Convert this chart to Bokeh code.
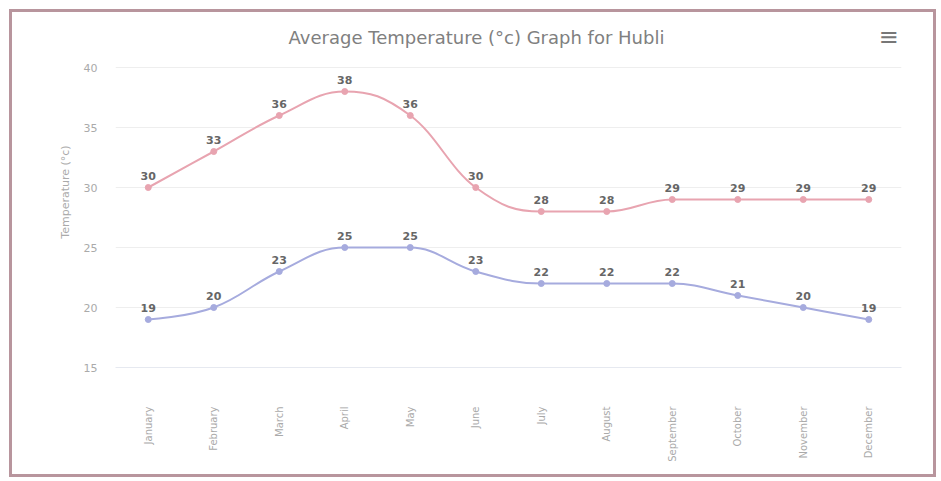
from bokeh.plotting import figure
from bokeh.models import Range1d, FixedTicker, ColumnDataSource
from bokeh.layouts import column
from bokeh.embed import file_html
from bokeh.resources import INLINE
from bokeh.core.properties import value

# ---- data ----
months = ["January", "February", "March", "April", "May", "June", "July",
          "August", "September", "October", "November", "December"]
high_temps = [30, 33, 36, 38, 36, 30, 28, 28, 29, 29, 29, 29]
low_temps = [19, 20, 23, 25, 25, 23, 22, 22, 22, 21, 20, 19]
y_ticks = [15, 20, 25, 30, 35, 40]

title_text = "Average Temperature (\u00b0c) Graph for Hubli"
y_title = "Temperature (\u00b0c)"
menu_icon = "\u2261"

HIGH_COLOR = "#e8a4b0"
LOW_COLOR = "#a6abde"
FONT = "DejaVu Sans"

# ---- layout (pixels, relative to the figure) ----
W, H = 921, 462
ML, MR, MB = 103, 32, 107
AXIS_TOP = 55          # pixel row of the top y tick
MT = 4                 # frame reaches nearly the top so title/menu can live in it
frame_h = H - MT - MB
px_per_deg = (frame_h - (AXIS_TOP - MT)) / (y_ticks[-1] - y_ticks[0])
x0, x1 = -0.5, len(months) - 0.5
y0 = y_ticks[0]
y1 = y_ticks[-1] + (AXIS_TOP - MT) / px_per_deg
frame_w = W - ML - MR


def sx_to_x(px):  # figure-pixel x -> data x
    return x0 + (px - ML) / frame_w * (x1 - x0)


def sy_to_y(py):  # figure-pixel y -> data y
    return y1 - (py - MT) / px_per_deg


def spline_segments(xs, ys, smoothing=1.5):
    """Highcharts-style spline control points -> cubic bezier segments."""
    n = len(xs)
    denom = smoothing + 1
    lc = [None] * n
    rc = [None] * n
    for i in range(n):
        px, py = xs[i], ys[i]
        if i == 0 or i == n - 1:
            lc[i] = (px, py)
            rc[i] = (px, py)
            continue
        lx, ly = xs[i - 1], ys[i - 1]
        nx, ny = xs[i + 1], ys[i + 1]
        lcx = (smoothing * px + lx) / denom
        lcy = (smoothing * py + ly) / denom
        rcx = (smoothing * px + nx) / denom
        rcy = (smoothing * py + ny) / denom
        if rcx != lcx:
            corr = (rcy - lcy) * (rcx - px) / (rcx - lcx) + py - rcy
            lcy += corr
            rcy += corr
        if lcy > ly and lcy > py:
            lcy = max(ly, py)
            rcy = 2 * py - lcy
        elif lcy < ly and lcy < py:
            lcy = min(ly, py)
            rcy = 2 * py - lcy
        if rcy > ny and rcy > py:
            rcy = max(ny, py)
            lcy = 2 * py - rcy
        elif rcy < ny and rcy < py:
            rcy = min(ny, py)
            lcy = 2 * py - rcy
        lc[i] = (lcx, lcy)
        rc[i] = (rcx, rcy)
    seg = dict(x0=[], y0=[], x1=[], y1=[], cx0=[], cy0=[], cx1=[], cy1=[])
    for i in range(n - 1):
        seg["x0"].append(xs[i]); seg["y0"].append(ys[i])
        seg["x1"].append(xs[i + 1]); seg["y1"].append(ys[i + 1])
        seg["cx0"].append(rc[i][0]); seg["cy0"].append(rc[i][1])
        seg["cx1"].append(lc[i + 1][0]); seg["cy1"].append(lc[i + 1][1])
    return seg


p = figure(width=W, height=H, output_backend="svg", toolbar_location=None,
           x_range=Range1d(x0, x1), y_range=Range1d(y0, y1),
           min_border_left=ML, min_border_right=MR,
           min_border_top=MT, min_border_bottom=MB,
           background_fill_color="white", border_fill_color="white")
p.outline_line_color = None

xs = list(range(len(months)))

for vals, col in ((high_temps, HIGH_COLOR), (low_temps, LOW_COLOR)):
    seg = spline_segments(xs, vals)
    p.bezier(source=ColumnDataSource(seg), x0="x0", y0="y0", x1="x1", y1="y1",
             cx0="cx0", cy0="cy0", cx1="cx1", cy1="cy1",
             line_color=col, line_width=2)
    src = ColumnDataSource(dict(x=xs, y=vals, t=[str(v) for v in vals]))
    p.scatter("x", "y", source=src, size=6, color=col, marker="circle")
    p.text("x", "y", text="t", source=src, y_offset=-8,
           text_align="center", text_baseline="bottom",
           text_font=value(FONT), text_font_size="11px",
           text_font_style="bold", text_color="#666666")

# title and menu icon drawn inside the (extended) frame
p.text(x=[sx_to_x(464)], y=[sy_to_y(25)], text=[title_text],
       text_align="center", text_baseline="middle",
       text_font=value(FONT), text_font_size="18px", text_color="#808080")
p.text(x=[sx_to_x(876)], y=[sy_to_y(24)], text=[menu_icon],
       text_align="center", text_baseline="middle",
       text_font=value(FONT), text_font_size="24px", text_color="#777777")

# axes
p.xaxis.ticker = FixedTicker(ticks=xs)
p.xaxis.major_label_overrides = {i: m for i, m in enumerate(months)}
p.xaxis.major_label_orientation = 1.5708
p.xaxis.major_label_standoff = 39
p.xaxis.major_label_text_font = FONT
p.xaxis.major_label_text_font_size = "10px"
p.xaxis.major_label_text_color = "#aaaaaa"
p.xaxis.axis_line_color = "#e6e9f0"
p.xaxis.major_tick_line_color = None
p.xaxis.major_tick_out = 0
p.xaxis.major_tick_in = 0
p.xaxis.minor_tick_line_color = None

p.yaxis.ticker = FixedTicker(ticks=y_ticks)
p.yaxis.axis_label = y_title
p.yaxis.axis_label_text_font = FONT
p.yaxis.axis_label_text_font_size = "11px"
p.yaxis.axis_label_text_font_style = "normal"
p.yaxis.axis_label_text_color = "#aaaaaa"
p.yaxis.axis_label_standoff = 9
p.yaxis.major_label_text_font = FONT
p.yaxis.major_label_text_font_size = "11px"
p.yaxis.major_label_text_color = "#aaaaaa"
p.yaxis.major_label_standoff = 18
p.yaxis.axis_line_color = None
p.yaxis.major_tick_line_color = None
p.yaxis.major_tick_out = 0
p.yaxis.major_tick_in = 0
p.yaxis.minor_tick_line_color = None

p.xgrid.grid_line_color = None
p.ygrid.grid_line_color = "#eeeeee"

root = column(p, styles={"border": "3px solid #b8959d", "padding": "0px",
                         "margin": "9px 0px 0px 9px"})

open("out.html", "w").write(file_html(root, INLINE))
